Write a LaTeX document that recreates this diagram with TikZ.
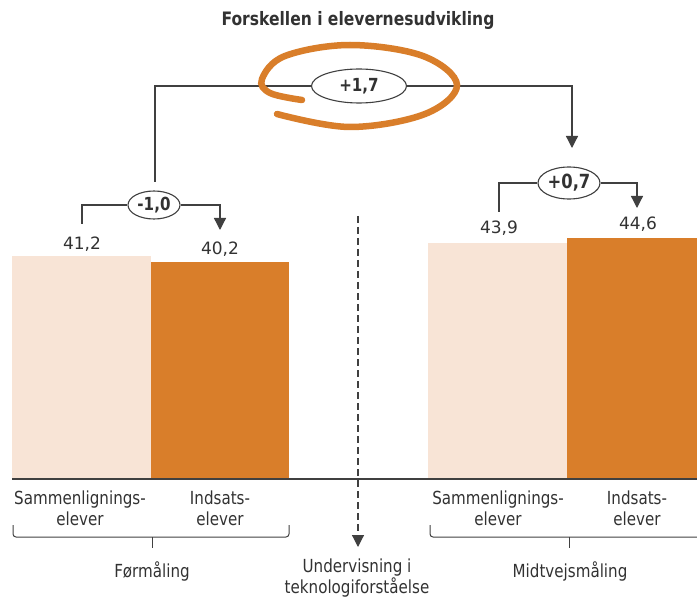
\documentclass[tikz,border=0pt]{standalone}
\usepackage{fontspec}
\setmainfont{DejaVu Sans}
\newfontfamily\narrowfont[FakeStretch=0.84]{DejaVu Sans}
\usetikzlibrary{arrows.meta,shapes.geometric}
\definecolor{lightbar}{RGB}{248,228,214}
\definecolor{orangebar}{RGB}{217,126,42}
\definecolor{ink}{RGB}{64,64,64}
\definecolor{textgray}{RGB}{50,50,50}

\begin{document}
\begin{tikzpicture}[x=1pt,y=-1pt,
  conn/.style={draw=ink,line width=1.3pt},
  endtip/.style={-{Triangle[width=12pt,length=12pt]}},
  diff/.style={ellipse,draw=ink,line width=1.1pt,fill=white,inner sep=0pt,text=textgray,font=\narrowfont\bfseries\fontsize{18}{20}\selectfont},
  valtext/.style={text=textgray,font=\fontsize{17}{19}\selectfont},
  catlabel/.style={text=textgray,align=center,font=\narrowfont\fontsize{18}{21}\selectfont},
  ringstroke/.style={draw=orangebar,line width=6.5pt,line cap=round}]
\useasboundingbox (0,0) rectangle (697,599);

\node[text=textgray,font=\narrowfont\bfseries\fontsize{18.5}{20}\selectfont] (title) at (358,20) {Forskellen i elevernesudvikling};

\fill[lightbar] (12,256) rectangle (151,479);
\fill[orangebar] (151,262) rectangle (289,479);
\fill[lightbar] (428,243) rectangle (567,479);
\fill[orangebar] (567,238) rectangle (697,479);
\draw[conn] (12,479) -- (697,479);

\node[valtext] (v1) at (82,244) {41,2};
\node[valtext] (v2) at (220,249) {40,2};
\node[valtext] (v3) at (499,228) {43,9};
\node[valtext] (v4) at (638,224) {44,6};

\node[diff,minimum width=52pt,minimum height=28pt] (diffA) at (154,205) {-1,0};
\node[diff,minimum width=62pt,minimum height=32pt,font=\narrowfont\bfseries\fontsize{19.5}{21}\selectfont] (diffB) at (569,183) {+0,7};
\node[diff,minimum width=95pt,minimum height=34pt] (diffTotal) at (359,86) {+1,7};

\coordinate (a1) at (82,224);
\coordinate (a2) at (220,230);
\coordinate (b1) at (499,212);
\coordinate (b2) at (637,208);
\coordinate (t1) at (155,182);
\coordinate (t2) at (572,148);
\draw[conn] (a1) |- (diffA);
\draw[conn,endtip] (diffA) -| (a2);
\draw[conn] (b1) |- (diffB);
\draw[conn,endtip] (diffB) -| (b2);
\draw[conn] (t1) |- (diffTotal);
\draw[conn,endtip] (diffTotal) -| (t2);

\draw[ringstroke] plot[smooth,tension=0.6] coordinates {(302,100) (270,93) (262,79) (285,56) (350,45) (423,56) (457,85) (425,114) (350,127) (277,114)};

\coordinate (teachTop) at (358,216);
\coordinate (teachEnd) at (358,547);
\draw[conn,line width=1.2pt,dash pattern=on 7pt off 4pt,endtip] (teachTop) -- (teachEnd);

\node[catlabel] (s1) at (80,508) {Sammenlignings-\\elever};
\node[catlabel] (i1) at (220,508) {Indsats-\\elever};
\node[catlabel] (s2) at (498,508) {Sammenlignings-\\elever};
\node[catlabel] (i2) at (637,508) {Indsats-\\elever};

\draw[conn,line width=1pt,rounded corners=3pt] (13,525) -- (13,537) -- (289,537) -- (289,525);
\draw[conn,line width=1pt] (152,537) -- (152,548);
\draw[conn,line width=1pt,rounded corners=3pt] (430,525) -- (430,537) -- (697,537);
\draw[conn,line width=1pt] (569,537) -- (569,548);

\node[catlabel] (pre) at (152,571) {Førmåling};
\node[catlabel] (teach) at (357,578) {Undervisning i\\teknologiforståelse};
\node[catlabel] (mid) at (570,571) {Midtvejsmåling};
\end{tikzpicture}
\end{document}
